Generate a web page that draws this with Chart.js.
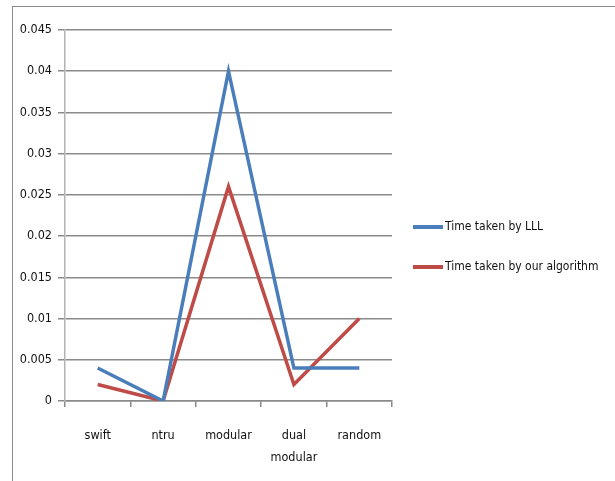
<!DOCTYPE html>
<html>
<head>
<meta charset="utf-8">
<script src="https://cdn.jsdelivr.net/npm/chart.js@4/dist/chart.umd.min.js"></script>
<style>
  html, body { margin: 0; padding: 0; background: #fff; }
  #wrap { position: relative; width: 615px; height: 481px; overflow: hidden; }
  #frame { position: absolute; left: 12px; top: 6px; width: 700px; height: 600px;
           border-left: 1px solid #8a8a8a; border-top: 1px solid #8a8a8a; }
  canvas { position: absolute; left: 0; top: 0; }
</style>
</head>
<body>
<div id="wrap">
  <div id="frame"></div>
  <canvas id="c" width="615" height="481"></canvas>
</div>
<script>
// Benchmark lattice types
const categories = ['swift', 'ntru', 'modular', ['dual', 'modular'], 'random'];
// Run times (seconds)
const timeLLL = [0.004, 0, 0.04, 0.004, 0.004];
const timeOurs = [0.002, 0, 0.026, 0.002, 0.01];
const seriesNames = ['Time taken by LLL', 'Time taken by our algorithm'];
const seriesColors = ['#4a7ebb', '#be4b48'];
const yTicks = [0, 0.005, 0.01, 0.015, 0.02, 0.025, 0.03, 0.035, 0.04, 0.045];

const FONT = '"DejaVu Sans Condensed", sans-serif';

// Legend drawn beside the plot: a short line sample followed by the series name
const sideLegend = {
  id: 'sideLegend',
  afterDraw(chart) {
    const ctx = chart.ctx;
    const x0 = 413, x1 = 443;
    const rows = [227, 267];
    ctx.save();
    chart.data.datasets.forEach((ds, i) => {
      const y = rows[i];
      ctx.strokeStyle = ds.borderColor;
      ctx.lineWidth = 4;
      ctx.beginPath();
      ctx.moveTo(x0, y);
      ctx.lineTo(x1, y);
      ctx.stroke();
      ctx.fillStyle = '#111';
      ctx.font = '12px ' + FONT;
      ctx.textAlign = 'left';
      ctx.textBaseline = 'middle';
      ctx.fillText(ds.label, x1 + 2, y);
    });
    ctx.restore();
  }
};

new Chart(document.getElementById('c'), {
  type: 'line',
  data: {
    labels: categories,
    datasets: [
      { label: seriesNames[0], data: timeLLL, borderColor: seriesColors[0], backgroundColor: seriesColors[0],
        borderWidth: 3.5, pointRadius: 0, tension: 0, fill: false },
      { label: seriesNames[1], data: timeOurs, borderColor: seriesColors[1], backgroundColor: seriesColors[1],
        borderWidth: 3.5, pointRadius: 0, tension: 0, fill: false }
    ]
  },
  options: {
    responsive: false,
    animation: false,
    events: [],
    layout: { padding: { left: 0, top: 30, right: 223, bottom: 0 } },
    plugins: { legend: { display: false }, tooltip: { enabled: false } },
    scales: {
      x: {
        offset: true,
        grid: { offset: true, drawOnChartArea: false, drawTicks: true, tickLength: 6,
                color: '#8a8a8a', lineWidth: 1.5 },
        border: { display: true, color: '#8a8a8a', width: 1.5 },
        ticks: { color: '#111', font: { family: FONT, size: 12.5, lineHeight: 1.8 }, padding: 17,
                 maxRotation: 0, autoSkip: false },
        afterFit(scale) { scale.height = 80; }
      },
      y: {
        min: 0, max: 0.045,
        afterBuildTicks(scale) { scale.ticks = yTicks.map(v => ({ value: v })); },
        grid: { color: '#8a8a8a', lineWidth: 1.5, tickLength: 7 },
        border: { display: true, color: '#b4b4b4', width: 1.5 },
        ticks: { color: '#111', font: { family: FONT, size: 12.5 }, padding: 6,
                 callback: v => String(v) },
        afterFit(scale) { scale.width = 65; }
      }
    }
  },
  plugins: [sideLegend]
});
</script>
</body>
</html>
